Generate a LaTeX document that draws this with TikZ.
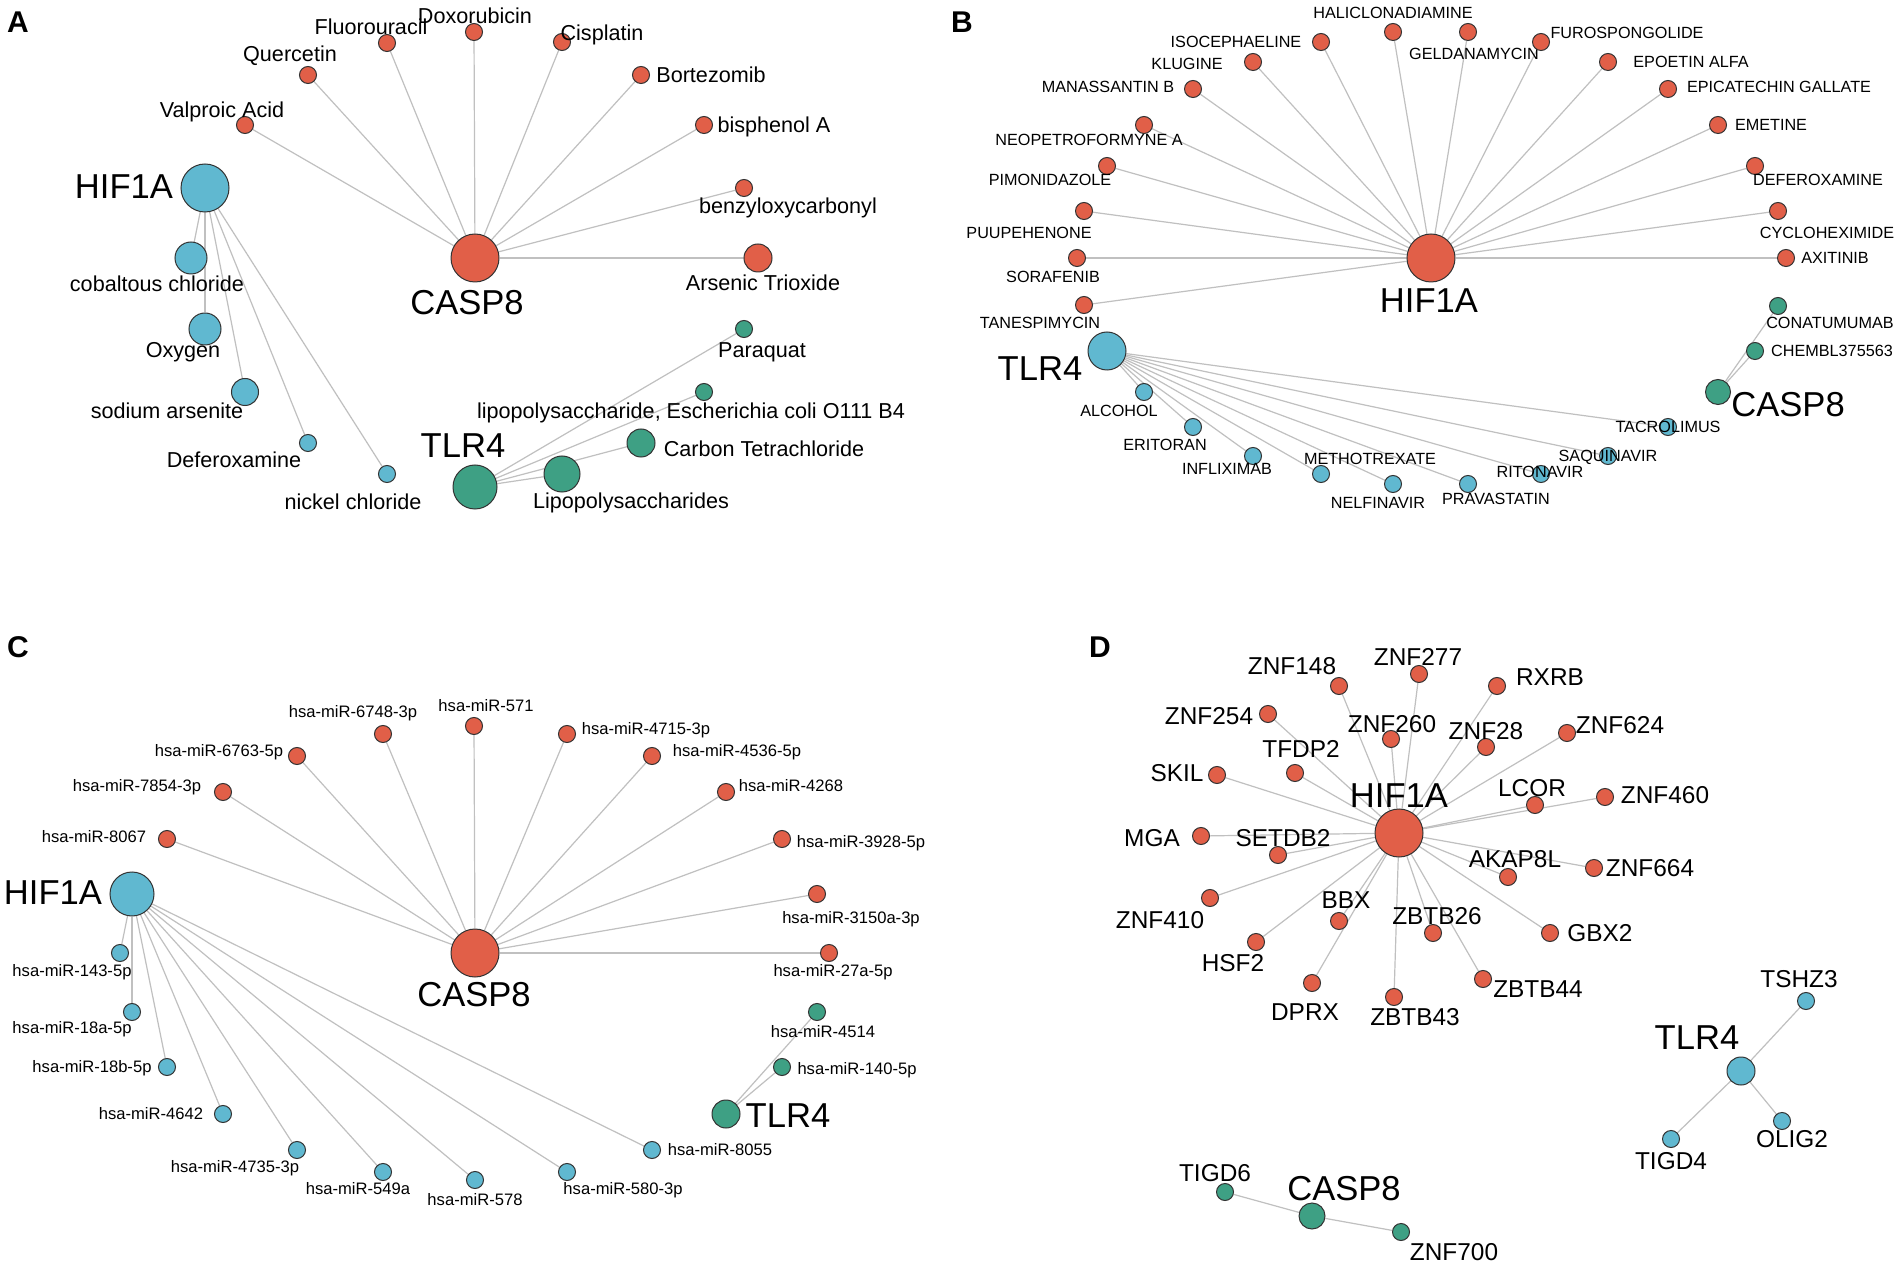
\documentclass[tikz,border=0pt]{standalone}
\usepackage{fontspec}
\setmainfont{Liberation Sans}
\usetikzlibrary{backgrounds}

\definecolor{cred}{RGB}{225,95,72}
\definecolor{cblue}{RGB}{96,184,208}
\definecolor{cgreen}{RGB}{62,160,132}
\definecolor{cedge}{RGB}{192,192,192}

\tikzset{
	nd/.style={circle, draw=black!80, line width=0.5pt, inner sep=0pt},
	ndred/.style={nd, fill=cred, minimum size=#1}, ndred/.default=8.5pt,
	ndblue/.style={nd, fill=cblue, minimum size=#1}, ndblue/.default=8.5pt,
	ndgreen/.style={nd, fill=cgreen, minimum size=#1}, ndgreen/.default=8.5pt,
	gene/.style={inner sep=0pt, text height=12.4pt, text depth=0pt, font=\fontsize{17.3}{18}\selectfont},
	labA/.style={inner sep=0pt, text height=7.7pt, text depth=0pt, font=\fontsize{10.8}{12}\selectfont},
	labB/.style={inner sep=0pt, text height=5.8pt, text depth=0pt, font=\fontsize{8.1}{9}\selectfont},
	labC/.style={inner sep=0pt, text height=5.9pt, text depth=0pt, font=\fontsize{8.3}{9}\selectfont},
	labD/.style={inner sep=0pt, text height=8.7pt, text depth=0pt, font=\fontsize{12.2}{13}\selectfont},
	panel/.style={inner sep=0pt, text height=10.7pt, text depth=0pt, font=\fontsize{15}{16}\selectfont\bfseries},
	edgeln/.style={draw=cedge, line width=0.6pt},
}

\begin{document}
\begin{tikzpicture}[x=0.5pt, y=-0.5pt]
	\useasboundingbox (0,0) rectangle (1902,1267);

	% A
	\node[panel] (pA) at (18,22) {A};
	\node[ndred=24pt] (aCASP) at (475,258) {};
	\node[gene] (aCASPl) at (467,302) {CASP8};
	\node[ndblue=24pt] (aHIF) at (205,188) {};
	\node[gene] (aHIFl) at (124,186) {HIF1A};
	\node[ndgreen=22pt] (aTLR) at (475,487) {};
	\node[gene] (aTLRl) at (463,445) {TLR4};
	\node[ndred] (aVal) at (245,125) {}; \node[labA] (aVall) at (222,110) {Valproic Acid};
	\node[ndred] (aQue) at (308,75) {}; \node[labA] (aQuel) at (290,54) {Quercetin};
	\node[ndred] (aFlu) at (387,43) {}; \node[labA] (aFlul) at (371,27) {Fluorouracil};
	\node[ndred] (aDox) at (474,32) {}; \node[labA] (aDoxl) at (475,16) {Doxorubicin};
	\node[ndred] (aCis) at (562,42) {}; \node[labA] (aCisl) at (602,33) {Cisplatin};
	\node[ndred] (aBor) at (641,75) {}; \node[labA] (aBorl) at (711,75) {Bortezomib};
	\node[ndred] (aBis) at (704,125) {}; \node[labA] (aBisl) at (774,125) {bisphenol A};
	\node[ndred] (aBen) at (744,188) {}; \node[labA] (aBenl) at (788,206) {benzyloxycarbonyl};
	\node[ndred=14pt] (aArs) at (758,258) {}; \node[labA] (aArsl) at (763,283) {Arsenic Trioxide};
	\node[ndblue=16pt] (aCob) at (191,258) {}; \node[labA] (aCobl) at (157,284) {cobaltous chloride};
	\node[ndblue=16pt] (aOxy) at (205,329) {}; \node[labA] (aOxyl) at (183,350) {Oxygen};
	\node[ndblue=13.5pt] (aSod) at (245,392) {}; \node[labA] (aSodl) at (167,411) {sodium arsenite};
	\node[ndblue] (aDef) at (308,443) {}; \node[labA] (aDefl) at (234,460) {Deferoxamine};
	\node[ndblue] (aNic) at (387,474) {}; \node[labA] (aNicl) at (353,502) {nickel chloride};
	\node[ndgreen] (aPar) at (744,329) {}; \node[labA] (aParl) at (762,350) {Paraquat};
	\node[ndgreen] (aLps) at (704,392) {}; \node[labA] (aLpsl) at (691,411) {lipopolysaccharide, Escherichia coli O111 B4};
	\node[ndgreen=14pt] (aCar) at (641,443) {}; \node[labA] (aCarl) at (764,449) {Carbon Tetrachloride};
	\node[ndgreen=18pt] (aLip) at (562,474) {}; \node[labA] (aLipl) at (631,501) {Lipopolysaccharides};

	% B
	\node[panel] (pB) at (962,22) {B};
	\node[ndred=24pt] (bHIF) at (1431,258) {};
	\node[gene] (bHIFl) at (1429,300) {HIF1A};
	\node[ndblue=19pt] (bTLR) at (1107,351) {};
	\node[gene] (bTLRl) at (1040,368) {TLR4};
	\node[ndgreen=12.5pt] (bCASP) at (1718,392) {};
	\node[gene] (bCASPl) at (1788,404) {CASP8};
	\node[ndred] (bHal) at (1393,32) {}; \node[labB] (bHall) at (1393,13) {HALICLONADIAMINE};
	\node[ndred] (bIso) at (1321,42) {}; \node[labB] (bIsol) at (1236,42) {ISOCEPHAELINE};
	\node[ndred] (bKlu) at (1253,62) {}; \node[labB] (bKlul) at (1187,64) {KLUGINE};
	\node[ndred] (bMan) at (1193,89) {}; \node[labB] (bManl) at (1108,87) {MANASSANTIN B};
	\node[ndred] (bNeo) at (1144,125) {}; \node[labB] (bNeol) at (1089,140) {NEOPETROFORMYNE A};
	\node[ndred] (bPim) at (1107,166) {}; \node[labB] (bPiml) at (1050,180) {PIMONIDAZOLE};
	\node[ndred] (bPuu) at (1084,211) {}; \node[labB] (bPuul) at (1029,233) {PUUPEHENONE};
	\node[ndred] (bSor) at (1077,258) {}; \node[labB] (bSorl) at (1053,277) {SORAFENIB};
	\node[ndred] (bTan) at (1084,305) {}; \node[labB] (bTanl) at (1040,323) {TANESPIMYCIN};
	\node[ndred] (bGel) at (1468,32) {}; \node[labB] (bGell) at (1474,54) {GELDANAMYCIN};
	\node[ndred] (bFur) at (1541,42) {}; \node[labB] (bFurl) at (1627,33) {FUROSPONGOLIDE};
	\node[ndred] (bEpo) at (1608,62) {}; \node[labB] (bEpol) at (1691,62) {EPOETIN ALFA};
	\node[ndred] (bEpi) at (1668,89) {}; \node[labB] (bEpil) at (1779,87) {EPICATECHIN GALLATE};
	\node[ndred] (bEme) at (1718,125) {}; \node[labB] (bEmel) at (1771,125) {EMETINE};
	\node[ndred] (bDef) at (1755,166) {}; \node[labB] (bDefl) at (1818,180) {DEFEROXAMINE};
	\node[ndred] (bCyc) at (1778,211) {}; \node[labB] (bCycl) at (1827,233) {CYCLOHEXIMIDE};
	\node[ndred] (bAxi) at (1786,258) {}; \node[labB] (bAxil) at (1835,258) {AXITINIB};
	\node[ndblue] (bAlc) at (1144,392) {}; \node[labB] (bAlcl) at (1119,411) {ALCOHOL};
	\node[ndblue] (bEri) at (1193,427) {}; \node[labB] (bEril) at (1165,445) {ERITORAN};
	\node[ndblue] (bInf) at (1253,456) {}; \node[labB] (bInfl) at (1227,469) {INFLIXIMAB};
	\node[ndblue] (bMet) at (1321,474) {}; \node[labB] (bMetl) at (1370,459) {METHOTREXATE};
	\node[ndblue] (bNel) at (1393,484) {}; \node[labB] (bNell) at (1378,503) {NELFINAVIR};
	\node[ndblue] (bPra) at (1468,484) {}; \node[labB] (bPral) at (1496,499) {PRAVASTATIN};
	\node[ndblue] (bRit) at (1541,474) {}; \node[labB] (bRitl) at (1540,472) {RITONAVIR};
	\node[ndblue] (bSaq) at (1608,456) {}; \node[labB] (bSaql) at (1608,456) {SAQUINAVIR};
	\node[ndblue] (bTac) at (1668,427) {}; \node[labB] (bTacl) at (1668,427) {TACROLIMUS};
	\node[ndgreen] (bCon) at (1778,306) {}; \node[labB] (bConl) at (1830,323) {CONATUMUMAB};
	\node[ndgreen] (bChe) at (1755,351) {}; \node[labB] (bChel) at (1832,351) {CHEMBL375563};

	% C
	\node[panel] (pC) at (18,647) {C};
	\node[ndred=24pt] (cCASP) at (475,953) {};
	\node[gene] (cCASPl) at (474,994) {CASP8};
	\node[ndblue=22pt] (cHIF) at (132,894) {};
	\node[gene] (cHIFl) at (53,892) {HIF1A};
	\node[ndgreen=14pt] (cTLR) at (726,1114) {};
	\node[gene] (cTLRl) at (788,1115) {TLR4};
	\node[ndred] (c8067) at (167,839) {}; \node[labC] (c8067l) at (94,837) {hsa-miR-8067};
	\node[ndred] (c7854) at (223,792) {}; \node[labC] (c7854l) at (137,786) {hsa-miR-7854-3p};
	\node[ndred] (c6763) at (297,756) {}; \node[labC] (c6763l) at (219,751) {hsa-miR-6763-5p};
	\node[ndred] (c6748) at (383,734) {}; \node[labC] (c6748l) at (353,712) {hsa-miR-6748-3p};
	\node[ndred] (c571) at (474,726) {}; \node[labC] (c571l) at (486,706) {hsa-miR-571};
	\node[ndred] (c4715) at (567,734) {}; \node[labC] (c4715l) at (646,729) {hsa-miR-4715-3p};
	\node[ndred] (c4536) at (652,756) {}; \node[labC] (c4536l) at (737,751) {hsa-miR-4536-5p};
	\node[ndred] (c4268) at (726,792) {}; \node[labC] (c4268l) at (791,786) {hsa-miR-4268};
	\node[ndred] (c3928) at (782,839) {}; \node[labC] (c3928l) at (861,842) {hsa-miR-3928-5p};
	\node[ndred] (c3150) at (817,894) {}; \node[labC] (c3150l) at (851,918) {hsa-miR-3150a-3p};
	\node[ndred] (c27a) at (829,953) {}; \node[labC] (c27al) at (833,971) {hsa-miR-27a-5p};
	\node[ndblue] (c143) at (120,953) {}; \node[labC] (c143l) at (72,971) {hsa-miR-143-5p};
	\node[ndblue] (c18a) at (132,1012) {}; \node[labC] (c18al) at (72,1028) {hsa-miR-18a-5p};
	\node[ndblue] (c18b) at (167,1067) {}; \node[labC] (c18bl) at (92,1067) {hsa-miR-18b-5p};
	\node[ndblue] (c4642) at (223,1114) {}; \node[labC] (c4642l) at (151,1114) {hsa-miR-4642};
	\node[ndblue] (c4735) at (297,1150) {}; \node[labC] (c4735l) at (235,1167) {hsa-miR-4735-3p};
	\node[ndblue] (c549) at (383,1172) {}; \node[labC] (c549l) at (358,1189) {hsa-miR-549a};
	\node[ndblue] (c578) at (475,1180) {}; \node[labC] (c578l) at (475,1200) {hsa-miR-578};
	\node[ndblue] (c580) at (567,1172) {}; \node[labC] (c580l) at (623,1189) {hsa-miR-580-3p};
	\node[ndblue] (c8055) at (652,1150) {}; \node[labC] (c8055l) at (720,1150) {hsa-miR-8055};
	\node[ndgreen] (c4514) at (817,1012) {}; \node[labC] (c4514l) at (823,1032) {hsa-miR-4514};
	\node[ndgreen] (c140) at (782,1067) {}; \node[labC] (c140l) at (857,1069) {hsa-miR-140-5p};

	% D
	\node[panel] (pD) at (1100,647) {D};
	\node[ndred=24pt] (dHIF) at (1399,833) {};
	\node[gene] (dHIFl) at (1399,795) {HIF1A};
	\node[ndred] (dZ148) at (1339,686) {}; \node[labD] (dZ148l) at (1292,666) {ZNF148};
	\node[ndred] (dZ277) at (1419,674) {}; \node[labD] (dZ277l) at (1418,657) {ZNF277};
	\node[ndred] (dRXRB) at (1497,686) {}; \node[labD] (dRXRBl) at (1550,677) {RXRB};
	\node[ndred] (dZ254) at (1268,714) {}; \node[labD] (dZ254l) at (1209,716) {ZNF254};
	\node[ndred] (dZ260) at (1391,739) {}; \node[labD] (dZ260l) at (1392,724) {ZNF260};
	\node[ndred] (dZ28) at (1486,747) {}; \node[labD] (dZ28l) at (1486,731) {ZNF28};
	\node[ndred] (dZ624) at (1567,733) {}; \node[labD] (dZ624l) at (1620,725) {ZNF624};
	\node[ndred] (dTFDP) at (1295,773) {}; \node[labD] (dTFDPl) at (1301,749) {TFDP2};
	\node[ndred] (dSKIL) at (1217,775) {}; \node[labD] (dSKILl) at (1177,773) {SKIL};
	\node[ndred] (dLCOR) at (1535,805) {}; \node[labD] (dLCORl) at (1532,788) {LCOR};
	\node[ndred] (dZ460) at (1605,797) {}; \node[labD] (dZ460l) at (1665,795) {ZNF460};
	\node[ndred] (dMGA) at (1201,836) {}; \node[labD] (dMGAl) at (1152,838) {MGA};
	\node[ndred] (dSET) at (1278,855) {}; \node[labD] (dSETl) at (1283,838) {SETDB2};
	\node[ndred] (dAKAP) at (1508,877) {}; \node[labD] (dAKAPl) at (1515,859) {AKAP8L};
	\node[ndred] (dZ664) at (1594,868) {}; \node[labD] (dZ664l) at (1650,868) {ZNF664};
	\node[ndred] (dZ410) at (1210,898) {}; \node[labD] (dZ410l) at (1160,920) {ZNF410};
	\node[ndred] (dBBX) at (1339,921) {}; \node[labD] (dBBXl) at (1346,900) {BBX};
	\node[ndred] (dZB26) at (1433,933) {}; \node[labD] (dZB26l) at (1437,916) {ZBTB26};
	\node[ndred] (dGBX) at (1550,933) {}; \node[labD] (dGBXl) at (1600,933) {GBX2};
	\node[ndred] (dHSF) at (1256,942) {}; \node[labD] (dHSFl) at (1233,963) {HSF2};
	\node[ndred] (dDPRX) at (1312,983) {}; \node[labD] (dDPRXl) at (1305,1012) {DPRX};
	\node[ndred] (dZB43) at (1394,997) {}; \node[labD] (dZB43l) at (1415,1017) {ZBTB43};
	\node[ndred] (dZB44) at (1483,979) {}; \node[labD] (dZB44l) at (1538,989) {ZBTB44};
	\node[ndblue=14pt] (dTLR) at (1741,1071) {};
	\node[gene] (dTLRl) at (1697,1037) {TLR4};
	\node[ndblue] (dTSHZ) at (1806,1001) {}; \node[labD] (dTSHZl) at (1799,979) {TSHZ3};
	\node[ndblue] (dOLIG) at (1782,1121) {}; \node[labD] (dOLIGl) at (1792,1139) {OLIG2};
	\node[ndblue] (dTIGD4) at (1671,1139) {}; \node[labD] (dTIGD4l) at (1671,1161) {TIGD4};
	\node[ndgreen=13pt] (dCASP) at (1312,1216) {};
	\node[gene] (dCASPl) at (1344,1188) {CASP8};
	\node[ndgreen] (dTIGD6) at (1225,1192) {}; \node[labD] (dTIGD6l) at (1215,1173) {TIGD6};
	\node[ndgreen] (dZ700) at (1401,1232) {}; \node[labD] (dZ700l) at (1454,1252) {ZNF700};

	% edges behind the nodes
	\begin{scope}[on background layer]
		\fill[white] (0,0) rectangle (1902,1267);
		\foreach \n in {aVal,aQue,aFlu,aDox,aCis,aBor,aBis,aBen,aArs}
			\draw[edgeln] (aCASP) -- (\n);
		\foreach \n in {aCob,aOxy,aSod,aDef,aNic}
			\draw[edgeln] (aHIF) -- (\n);
		\foreach \n in {aPar,aLps,aCar,aLip}
			\draw[edgeln] (aTLR) -- (\n);
		\foreach \n in {bHal,bIso,bKlu,bMan,bNeo,bPim,bPuu,bSor,bTan,bGel,bFur,bEpo,bEpi,bEme,bDef,bCyc,bAxi}
			\draw[edgeln] (bHIF) -- (\n);
		\foreach \n in {bAlc,bEri,bInf,bMet,bNel,bPra,bRit,bSaq,bTac}
			\draw[edgeln] (bTLR) -- (\n);
		\foreach \n in {bCon,bChe}
			\draw[edgeln] (bCASP) -- (\n);
		\foreach \n in {c8067,c7854,c6763,c6748,c571,c4715,c4536,c4268,c3928,c3150,c27a}
			\draw[edgeln] (cCASP) -- (\n);
		\foreach \n in {c143,c18a,c18b,c4642,c4735,c549,c578,c580,c8055}
			\draw[edgeln] (cHIF) -- (\n);
		\foreach \n in {c4514,c140}
			\draw[edgeln] (cTLR) -- (\n);
		\foreach \n in {dZ148,dZ277,dRXRB,dZ254,dZ260,dZ28,dZ624,dTFDP,dSKIL,dLCOR,dZ460,dMGA,dSET,dAKAP,dZ664,dZ410,dBBX,dZB26,dGBX,dHSF,dDPRX,dZB43,dZB44}
			\draw[edgeln] (dHIF) -- (\n);
		\foreach \n in {dTSHZ,dOLIG,dTIGD4}
			\draw[edgeln] (dTLR) -- (\n);
		\foreach \n in {dTIGD6,dZ700}
			\draw[edgeln] (dCASP) -- (\n);
	\end{scope}
\end{tikzpicture}
\end{document}
